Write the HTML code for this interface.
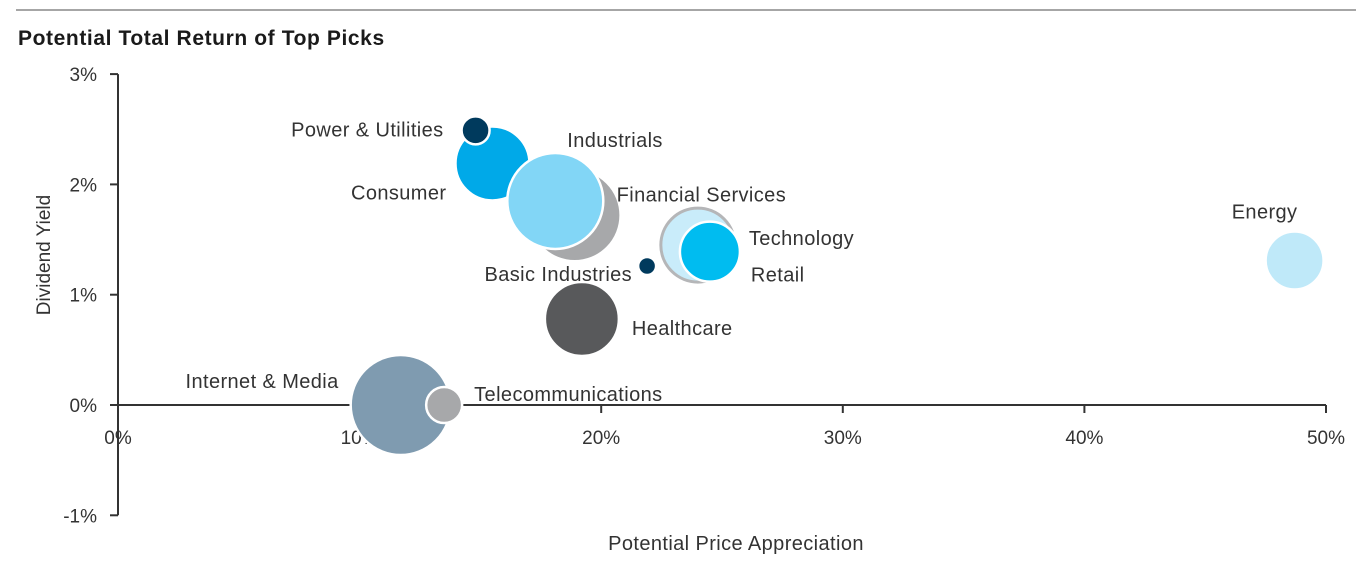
<!DOCTYPE html>
<html><head><meta charset="utf-8"><style>
body{margin:0;background:#fff;width:1356px;height:558px;overflow:hidden;font-family:"Liberation Sans",sans-serif;}
svg text{font-family:"Liberation Sans",sans-serif;fill:#333;}
</style></head><body>
<svg width="1356" height="558">
<line x1="16" y1="10" x2="1356" y2="10" stroke="#a6a6a6" stroke-width="2"/>
<text x="18" y="45" font-size="21" letter-spacing="0.6" font-weight="bold" style="fill:#1a1a1a">Potential Total Return of Top Picks</text>
<g id="axes"></g>
<g id="bubbles"></g>
<text x="736" y="550" font-size="20" letter-spacing="0.4" text-anchor="middle">Potential Price Appreciation</text>
<text transform="translate(50,255) rotate(-90)" font-size="19" text-anchor="middle">Dividend Yield</text>
</svg>
<script>
const names=["Power & Utilities","Consumer","Financial Services","Industrials","Technology","Retail","Basic Industries","Healthcare","Internet & Media","Telecommunications","Energy"];
const priceApp=[14.8,15.5,18.9,18.1,24.0,24.5,21.9,19.2,11.7,13.5,48.7];
const divYield=[2.49,2.19,1.72,1.85,1.45,1.39,1.26,0.78,0.0,0.0,1.31];
const sizes=[14,37,46,48,37,30,9,37,50,18,29];
const xTicks=[0,10,20,30,40,50];
const yTicks=[-1,0,1,2,3];
const colors=["#003a5d","#00a9e8","#a7a8aa","#82d6f6","#c9ecfa","#00bcf0","#003a5d","#58595b","#7f9bb0","#a7a8aa","#bfe9f9"];
const strokes=["#fff","#fff","#fff","#fff","#b5b6b8","#fff","#fff","#fff","#fff","#fff","#fff"];
const labelPos=[[-32,0,"end"],[-46,30,"end"],[42,-20,"start"],[12,-60,"start"],[51,-6,"start"],[41,24,"start"],[-15,9,"end"],[50,10,"start"],[-62,-23,"end"],[30,-10,"start"],[-30,-48,"middle"]];
const X=v=>118+v*24.16, Y=v=>405-v*110.3;
const ns="http://www.w3.org/2000/svg";
const ax=document.getElementById('axes');
function mk(tag,attrs,parent){const e=document.createElementNS(ns,tag);for(const k in attrs)e.setAttribute(k,attrs[k]);parent.appendChild(e);return e;}
let l=mk('line',{x1:118,y1:Y(3),x2:118,y2:Y(-1),stroke:'#333','stroke-width':2},ax);


l=mk('line',{x1:118,y1:Y(0),x2:X(50),y2:Y(0),stroke:'#333','stroke-width':2},ax);


yTicks.forEach(t=>{
 mk('line',{x1:110,y1:Y(t),x2:118,y2:Y(t),stroke:'#333','stroke-width':2},ax);
 const tx=mk('text',{x:97,y:Y(t)+7,'font-size':19,'text-anchor':'end'},ax);tx.textContent=t+'%';
 
 
});
xTicks.forEach(t=>{
 mk('line',{x1:X(t),y1:Y(0),x2:X(t),y2:Y(0)+8,stroke:'#333','stroke-width':2},ax);
 const tx=mk('text',{x:X(t),y:444,'font-size':19,'text-anchor':'middle'},ax);tx.textContent=t+'%';
 
 
});
const bg=document.getElementById('bubbles');
const order=[8,9,1,0,2,3,4,5,6,7,10];
order.forEach(i=>{
 const c=mk('circle',{cx:X(priceApp[i]),cy:Y(divYield[i]),r:sizes[i],fill:colors[i],stroke:strokes[i],'stroke-width':i==4?3:2.5},bg);
 
 
});
names.forEach((n,i)=>{
 const p=labelPos[i];
 const t=mk('text',{x:X(priceApp[i])+p[0],y:Y(divYield[i])+p[1]+6,'font-size':20,'letter-spacing':0.4,'text-anchor':p[2]},bg);
 t.textContent=n;
 
 
});
</script>
</body></html>
